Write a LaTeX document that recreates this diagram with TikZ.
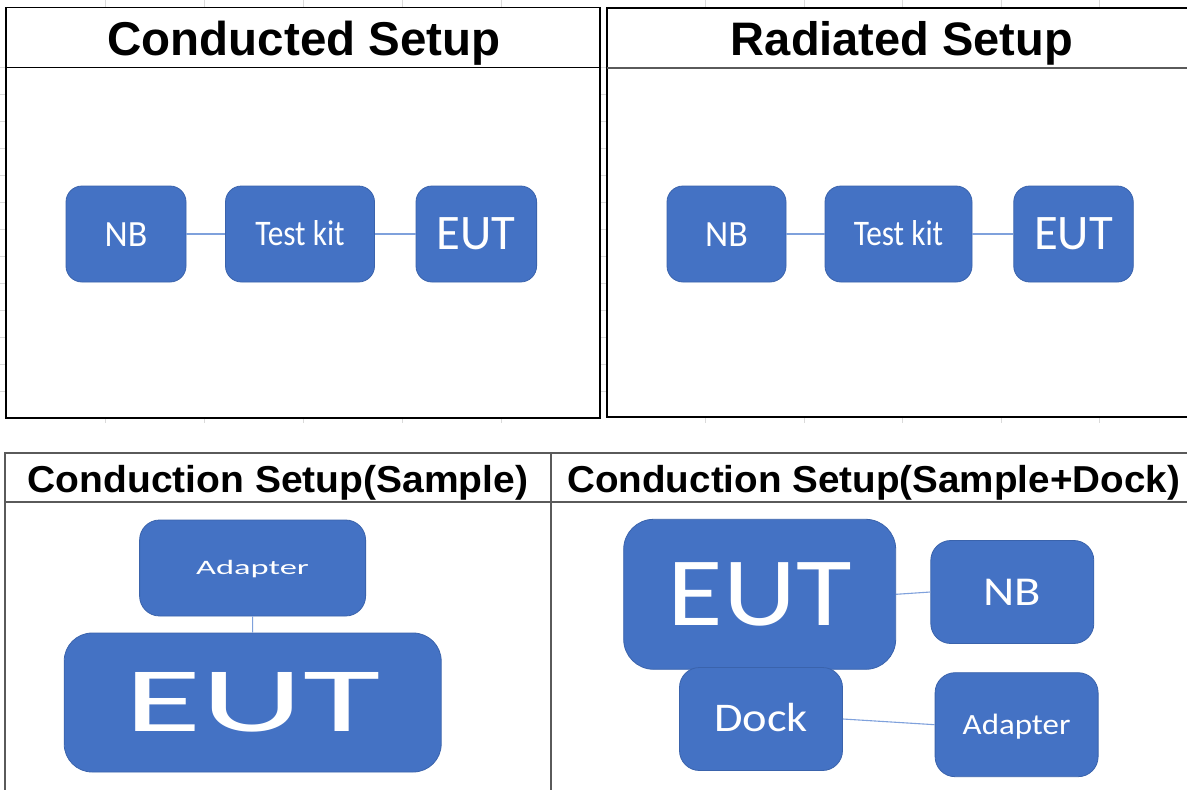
\documentclass[tikz,border=0pt]{standalone}
\usepackage{graphicx}
\usepackage{fontspec}
\setmainfont{Liberation Sans}
\newfontfamily\cfont{Carlito}
\definecolor{boxblue}{HTML}{4472C4}
\definecolor{boxedge}{HTML}{3A63AC}
\definecolor{linkblue}{HTML}{7FA1DC}
\definecolor{framegray}{HTML}{5A5A5A}
\definecolor{gridgray}{HTML}{DADADA}
\newcommand\bxt[3]{{\cfont\fontsize{#1}{#1}\selectfont\scalebox{#2}[1]{#3}}}
\newcommand\ttl[3]{{\bfseries\fontsize{#1}{#1}\selectfont\scalebox{#2}[1]{#3}}}
\tikzset{
  boxnode/.style={rectangle, rounded corners=#1, fill=boxblue, draw=boxedge, line width=0.8pt, inner sep=0pt, text=white, text depth=0pt},
  boxnode/.default=16pt,
  link/.style={draw=linkblue, line width=1.1pt},
  topframe/.style={draw=black, line width=1.3pt},
  botframe/.style={draw=framegray, line width=2pt},
  gridstub/.style={draw=gridgray, line width=0.7pt},
  titlenode/.style={anchor=base, inner sep=0pt}
}
\begin{document}
\begin{tikzpicture}[x=1pt, y=-1pt]
\useasboundingbox (0,0) rectangle (1187,790);
\clip (0,0) rectangle (1187,790);
\fill[white] (0,0) rectangle (1187,790);
% spreadsheet grid stubs
\foreach \x in {105,204,303,402,501,705,804,902,1001,1099} {
  \draw[gridstub] (\x,0) -- (\x,7);
  \draw[gridstub] (\x,418) -- (\x,423);
}
\foreach \y in {67,94,...,391} {
  \draw[gridstub] (0,\y) -- (6,\y);
  \draw[gridstub] (600,\y) -- (607,\y);
}
% top frames
\draw[topframe] (6,7.5) rectangle (600,418);
\draw[topframe] (6,67.5) -- (600,67.5);
\draw[topframe] (607,8) rectangle (1195,417);
\draw[draw=framegray, line width=2pt] (607,68.3) -- (1195,68.3);
% bottom frames
\draw[botframe] (5,452.5) rectangle (1195,800);
\draw[botframe] (5,502) -- (1195,502);
\draw[botframe] (550.5,452.5) -- (550.5,800);
% titles
\node[titlenode] (t1) at (304,55) {\ttl{47.5}{1}{Conducted Setup}};
\node[titlenode] (t2) at (902,55) {\ttl{47}{1}{Radiated Setup}};
\node[titlenode] (t3) at (278,492) {\ttl{37.5}{1.04}{Conduction Setup(Sample)}};
\node[titlenode] (t4) at (873.6,492) {\ttl{37.5}{1.03}{Conduction Setup(Sample+Dock)}};
% top-left diagram
\node[boxnode, minimum width=120pt, minimum height=96pt, text height=24pt] (tlNB) at (126,234) {\bxt{37}{0.97}{NB}};
\node[boxnode, minimum width=149pt, minimum height=96pt, text height=23pt] (tlTK) at (300,234) {\bxt{36}{0.87}{Test kit}};
\node[boxnode, minimum width=120.6pt, minimum height=96pt, text height=31pt] (tlEUT) at (476.3,234) {\bxt{49.7}{0.98}{EUT}};
\draw[link] (tlNB) -- (tlTK);
\draw[link] (tlTK) -- (tlEUT);
% top-right diagram
\node[boxnode, minimum width=119pt, minimum height=96pt, text height=24pt] (trNB) at (726.5,234) {\bxt{37}{0.97}{NB}};
\node[boxnode, minimum width=147pt, minimum height=96pt, text height=23pt] (trTK) at (898.5,234) {\bxt{36}{0.87}{Test kit}};
\node[boxnode, minimum width=119.5pt, minimum height=96pt, text height=31pt] (trEUT) at (1073.5,234) {\bxt{49.7}{0.98}{EUT}};
\draw[link] (trNB) -- (trTK);
\draw[link] (trTK) -- (trEUT);
% bottom-left diagram
\node[boxnode=20pt, minimum width=226pt, minimum height=96pt, text height=13pt] (blAD) at (252.6,568) {\bxt{20.5}{1.68}{Adapter}};
\node[boxnode=28pt, minimum width=377pt, minimum height=139pt, text height=58pt] (blEUT) at (252.7,702.5) {\bxt{92}{1.72}{EUT}};
\draw[link] (blAD) -- (blEUT);
% bottom-right diagram
\node[boxnode=30pt, minimum width=272pt, minimum height=150pt, text height=62pt] (brEUT) at (759.7,594.3) {\bxt{98}{1.16}{EUT}};
\node[boxnode=20pt, minimum width=163pt, minimum height=103pt, text height=26pt] (brNB) at (1012.3,592) {\bxt{41}{1.18}{NB}};
\node[boxnode=20pt, minimum width=163pt, minimum height=103pt, text height=25.7pt] (brDock) at (761,719) {\bxt{40.7}{1.14}{Dock}};
\node[boxnode=20pt, minimum width=163pt, minimum height=104pt, text height=18.6pt] (brAD) at (1016.6,724.7) {\bxt{29.4}{1.12}{Adapter}};
\draw[link] (brEUT.east) -- (brNB.west);
\draw[link] (brDock.east) -- (brAD.west);
\end{tikzpicture}
\end{document}
